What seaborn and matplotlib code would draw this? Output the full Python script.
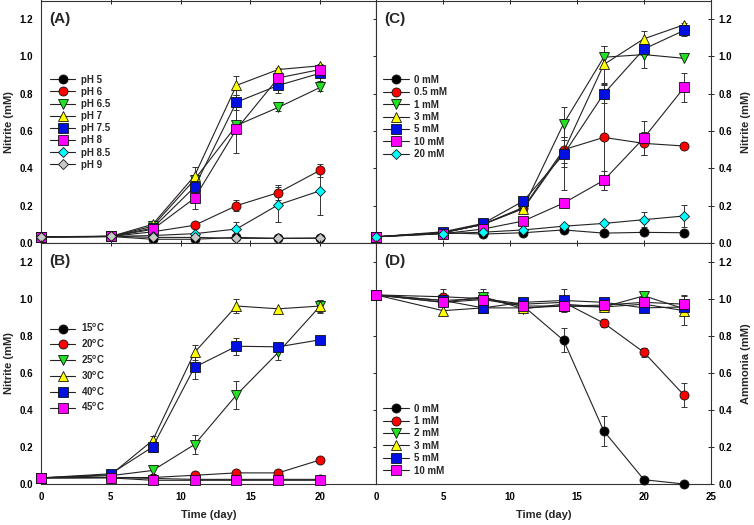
import matplotlib
matplotlib.use("Agg")
import matplotlib.pyplot as plt
import numpy as np
import seaborn as sns

# ---- data -------------------------------------------------------------
days_left = [0, 5, 8, 11, 14, 17, 20]
days_right = [0, 5, 8, 11, 14, 17, 20, 23]

# (A) pH
ph_labels = ["pH 5", "pH 6", "pH 6.5", "pH 7", "pH 7.5", "pH 8", "pH 8.5", "pH 9"]
ph_vals = [
    [0.033, 0.035, 0.02, 0.02, 0.03, 0.025, 0.025],
    [0.033, 0.035, 0.06, 0.095, 0.20, 0.27, 0.39],
    [0.033, 0.035, 0.09, 0.34, 0.63, 0.727, 0.834],
    [0.033, 0.035, 0.10, 0.36, 0.845, 0.93, 0.95],
    [0.033, 0.035, 0.08, 0.30, 0.755, 0.845, 0.91],
    [0.033, 0.035, 0.073, 0.24, 0.61, 0.885, 0.93],
    [0.033, 0.035, 0.04, 0.05, 0.075, 0.205, 0.28],
    [0.033, 0.037, 0.03, 0.03, 0.025, 0.025, 0.027],
]
ph_err = [
    [0, 0, 0, 0, 0, 0, 0],
    [0, 0, 0, 0, 0.03, 0.04, 0.035],
    [0, 0, 0, 0, 0.02, 0.02, 0.02],
    [0, 0, 0.01, 0.045, 0.05, 0.01, 0.01],
    [0, 0, 0, 0.03, 0.04, 0.04, 0.04],
    [0, 0, 0, 0.06, 0.13, 0.03, 0.02],
    [0, 0, 0, 0, 0.035, 0.095, 0.13],
    [0, 0, 0, 0, 0, 0, 0],
]

# (B) temperature
temp_labels = ["15$^{\\mathregular{o}}$C", "20$^{\\mathregular{o}}$C", "25$^{\\mathregular{o}}$C",
               "30$^{\\mathregular{o}}$C", "40$^{\\mathregular{o}}$C", "45$^{\\mathregular{o}}$C"]
temp_vals = [
    [0.033, 0.035, 0.03, 0.025, 0.025, 0.025, 0.025],
    [0.033, 0.035, 0.035, 0.047, 0.06, 0.06, 0.13],
    [0.033, 0.045, 0.073, 0.213, 0.48, 0.71, 0.96],
    [0.033, 0.05, 0.235, 0.71, 0.96, 0.945, 0.96],
    [0.033, 0.055, 0.20, 0.63, 0.743, 0.74, 0.778],
    [0.033, 0.033, 0.02, 0.02, 0.02, 0.02, 0.02],
]
temp_err = [
    [0, 0, 0, 0, 0, 0, 0],
    [0, 0, 0, 0, 0, 0, 0.015],
    [0, 0, 0, 0.05, 0.075, 0.04, 0.03],
    [0, 0, 0.025, 0.04, 0.04, 0, 0.035],
    [0, 0, 0.03, 0.065, 0.045, 0.02, 0],
    [0, 0, 0, 0, 0, 0, 0],
]

# (C) nitrite production vs ammonia dose
conc_c_labels = ["0 mM", "0.5 mM", "1 mM", "3 mM", "5 mM", "10 mM", "20 mM"]
conc_c_vals = [
    [0.033, 0.055, 0.048, 0.055, 0.07, 0.053, 0.057, 0.055],
    [0.033, 0.055, 0.10, 0.19, 0.50, 0.566, 0.534, 0.52],
    [0.033, 0.055, 0.10, 0.19, 0.64, 0.996, 1.01, 0.99],
    [0.033, 0.055, 0.10, 0.184, 0.49, 0.957, 1.095, 1.17],
    [0.033, 0.06, 0.105, 0.225, 0.475, 0.80, 1.04, 1.14],
    [0.033, 0.05, 0.075, 0.118, 0.214, 0.336, 0.564, 0.834],
    [0.033, 0.05, 0.058, 0.07, 0.09, 0.105, 0.125, 0.145],
]
conc_c_err = [
    [0, 0, 0, 0, 0, 0, 0, 0],
    [0, 0, 0, 0, 0.07, 0.28, 0.06, 0],
    [0, 0, 0, 0, 0.09, 0.06, 0.07, 0],
    [0, 0, 0, 0.02, 0.08, 0.1, 0.04, 0.01],
    [0, 0, 0, 0, 0.19, 0.05, 0.03, 0.03],
    [0, 0, 0, 0, 0, 0.05, 0.09, 0.08],
    [0, 0, 0, 0, 0, 0, 0.04, 0.06],
]

# (D) ammonia consumption
conc_d_labels = ["0 mM", "1 mM", "2 mM", "3 mM", "5 mM", "10 mM"]
conc_d_vals = [
    [1.02, 0.99, 1.0, 0.96, 0.775, 0.286, 0.023, 0.0],
    [1.02, 1.01, 1.0, 0.97, 0.98, 0.868, 0.71, 0.478],
    [1.02, 0.98, 1.01, 0.945, 0.97, 0.955, 1.015, 0.945],
    [1.02, 0.935, 0.95, 0.95, 0.96, 0.955, 0.97, 0.935],
    [1.02, 0.99, 0.95, 0.98, 0.99, 0.98, 0.95, 0.955],
    [1.02, 0.98, 0.995, 0.96, 0.96, 0.965, 0.98, 0.97],
]
conc_d_err = [
    [0, 0, 0, 0, 0.065, 0.08, 0, 0],
    [0, 0.04, 0, 0, 0, 0.02, 0.025, 0.065],
    [0, 0, 0.04, 0, 0, 0, 0.01, 0],
    [0, 0, 0, 0, 0, 0, 0, 0.08],
    [0, 0, 0, 0, 0.06, 0, 0, 0],
    [0, 0, 0, 0, 0, 0, 0, 0.05],
]

styles = {
    "black": ("o", "#000000"),
    "red": ("o", "#FF0000"),
    "green": ("v", "#22E022"),
    "yellow": ("^", "#FFFF00"),
    "blue": ("s", "#0010E0"),
    "magenta": ("s", "#FF00FF"),
    "cyan": ("D", "#00FFFF"),
    "gray": ("D", "#C8C8C8"),
}
order8 = ["black", "red", "green", "yellow", "blue", "magenta", "cyan", "gray"]
order6 = ["black", "red", "green", "yellow", "blue", "magenta"]


def draw_panel(ax, days, vals, errs, labels, keys):
    for v, e, lab, k in zip(vals, errs, labels, keys):
        marker, color = styles[k]
        v = np.array(v, dtype=float)
        e = np.array(e, dtype=float)
        m = e > 0
        ax.errorbar(np.array(days)[m], v[m], yerr=e[m], fmt="none", ecolor="#333333",
                    elinewidth=0.7, capsize=2.5, capthick=0.7, zorder=2, clip_on=False)
        ms = 5.4 if marker == "D" else 6.5
        sns.lineplot(x=days, y=v, ax=ax, color="#222222", lw=0.8, marker=marker,
                     markersize=ms, markerfacecolor=color, markeredgecolor="#111111",
                     markeredgewidth=0.6, label=lab, clip_on=False, zorder=3)


def style_axis(ax, xmax, right=False, bottom=False):
    ax.set_xlim(0, xmax)
    ax.set_ylim(0, 1.3)
    ax.set_yticks([0, 0.2, 0.4, 0.6, 0.8, 1.0, 1.2])
    ax.set_yticklabels(["0.0", "0.2", "0.4", "0.6", "0.8", "1.0", "1.2"])
    ax.tick_params(direction="inout", length=5, width=0.7, top=True, right=True,
                   labelsize=7, pad=3, colors="#222222", labelcolor="black")
    if right:
        ax.tick_params(axis="y", labelleft=False, labelright=True)
        ax.yaxis.set_label_position("right")
    if not bottom:
        ax.tick_params(axis="x", labelbottom=False)
    for lab in ax.get_xticklabels() + ax.get_yticklabels():
        lab.set_fontweight("bold")
    for sp in ax.spines.values():
        sp.set_linewidth(0.8)
        sp.set_color("#333333")
        sp.set_visible(True)


sns.set_style("white")
plt.rcParams["font.family"] = ["Liberation Sans", "DejaVu Sans"]
plt.rcParams["mathtext.fontset"] = "custom"
plt.rcParams["mathtext.rm"] = "Liberation Sans:bold"

fig = plt.figure(figsize=(7.54, 5.25), dpi=100)
W, H = 754, 525


def add_ax(x0, y0, x1, y1):
    return fig.add_axes([x0 / W, 1 - y1 / H, (x1 - x0) / W, (y1 - y0) / H])


axA = add_ax(41, 0.5, 376, 243)
axB = add_ax(41, 243, 376, 484)
axC = add_ax(376, 0.5, 711, 243)
axD = add_ax(376, 243, 711, 484)

draw_panel(axA, days_left, ph_vals, ph_err, ph_labels, order8)
draw_panel(axB, days_left, temp_vals, temp_err, temp_labels, order6)
draw_panel(axC, days_right, conc_c_vals, conc_c_err, conc_c_labels, order8[:7])
draw_panel(axD, days_right, conc_d_vals, conc_d_err, conc_d_labels, order6)

style_axis(axA, 24)
style_axis(axB, 24, bottom=True)
style_axis(axC, 25, right=True)
style_axis(axD, 25, right=True, bottom=True)
axA.set_xticks([0, 5, 10, 15, 20])
axB.set_xticks([0, 5, 10, 15, 20])
axC.set_xticks([0, 5, 10, 15, 20, 25])
axD.set_xticks([0, 5, 10, 15, 20, 25])
for lab in axB.get_xticklabels() + axD.get_xticklabels():
    lab.set_fontweight("bold")

lab_kw = dict(fontsize=8, fontweight="bold")
axA.set_ylabel("Nitrite (mM)", labelpad=4, **lab_kw)
axB.set_ylabel("Nitrite (mM)", labelpad=4, **lab_kw)
axC.set_ylabel("Nitrite (mM)", labelpad=6, rotation=90, **lab_kw)
axD.set_ylabel("Ammonia (mM)", labelpad=6, rotation=90, **lab_kw)
axB.set_xlabel("Time (day)", labelpad=6, **lab_kw)
axD.set_xlabel("Time (day)", labelpad=6, **lab_kw)
axA.set_xlabel("")
axC.set_xlabel("")

for ax, tag in zip([axA, axB, axC, axD], ["(A)", "(B)", "(C)", "(D)"]):
    ax.text(0.024, 0.925, tag, transform=ax.transAxes, fontsize=11,
            fontweight="bold", va="center", ha="left")

leg_kw = dict(frameon=False, handlelength=2.6, handletextpad=0.6,
              borderaxespad=0, loc="upper left",
              prop={"weight": "bold", "size": 7})
axA.legend(bbox_to_anchor=(0.015, 0.71), labelspacing=0.22, **leg_kw)
axB.legend(bbox_to_anchor=(0.015, 0.69), labelspacing=0.36, **leg_kw)
axC.legend(bbox_to_anchor=(0.01, 0.71), labelspacing=0.25, **leg_kw)
axD.legend(bbox_to_anchor=(0.01, 0.35), labelspacing=0.25, **leg_kw)

fig.savefig("out.png", dpi=100)
